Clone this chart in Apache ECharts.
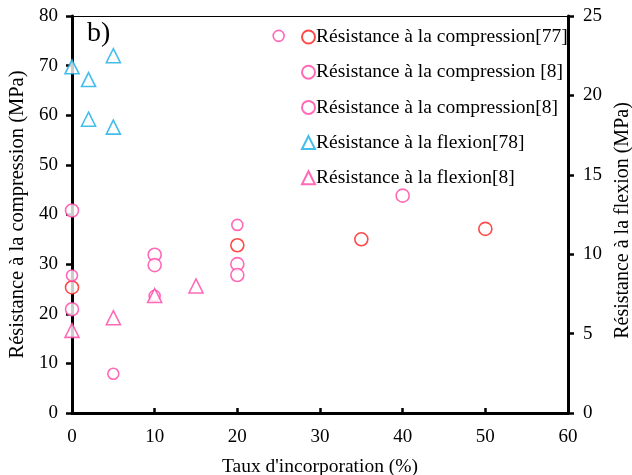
<!DOCTYPE html>
<html><head><meta charset="utf-8">
<script src="https://cdn.jsdelivr.net/npm/echarts@6/dist/echarts.min.js"></script>
<style>html,body{margin:0;padding:0;background:#fff;overflow:hidden}#c{width:632px;height:475px}</style>
</head><body><div id="c"></div>
<script>
const xTicks = [0, 10, 20, 30, 40, 50, 60];
const seriesNames = [
  'Résistance à la compression[77]',
  'Résistance à la compression [8]',
  'Résistance à la compression[8]',
  'Résistance à la flexion[78]',
  'Résistance à la flexion[8]'
];
const comp77 = [[0, 25.3], [20, 33.8], [35, 35.0], [50, 37.1]];
const comp8a = [[0, 40.8], [0, 20.9], [10, 31.9], [10, 29.8], [20, 30.0], [20, 27.8], [40, 43.8]];
const comp8b = [[0, 27.7], [5, 7.9], [10, 23.6], [20, 37.9], [25, 76.0]];
const flex78 = [[0, 21.8], [2, 21.0], [2, 18.5], [5, 22.5], [5, 18.0]];
const flex8 = [[0, 5.2], [5, 6.0], [10, 7.4], [15, 8.0]];

const RED = '#ff1a1a', PINK = '#ff45a5', BLUE = '#14aee6';
const FONT = 'Liberation Serif';

const chart = echarts.init(document.getElementById('c'));
function sc(name, data, color, symbol, size, yIdx) {
  return {
    type: 'scatter', name: name, data: data, yAxisIndex: yIdx,
    symbol: symbol, symbolSize: size,
    itemStyle: { color: '#fff', borderColor: color, borderWidth: 1.6 },
    z: 3
  };
}
chart.setOption({
  animation: false,
  textStyle: { fontFamily: FONT },
  grid: { left: 72, right: 64, top: 16, bottom: 62, show: false,
    containLabel: false, outerBoundsMode: 'none' },
  legend: {
    orient: 'vertical', left: 296, top: 22, itemGap: 15.2,
    itemWidth: 13, itemHeight: 13, z: 1,
    textStyle: { fontFamily: FONT, fontSize: 19.5, color: '#000', padding: [0, 0, 0, -4] },
    data: seriesNames
  },
  xAxis: [{
    type: 'value', min: 0, max: 60, interval: 10,
    axisLine: { onZero: false, lineStyle: { color: '#000', width: 3 } },
    axisTick: { inside: true, length: 5, lineStyle: { color: '#000', width: 2.5 } },
    axisLabel: { color: '#000', fontSize: 19, fontFamily: FONT, margin: 15,
      formatter: v => xTicks.includes(v) ? String(v) : '' },
    splitLine: { show: false },
    name: "Taux d'incorporation (%)", nameLocation: 'middle', nameGap: 44,
    nameTextStyle: { color: '#000', fontSize: 19.5, fontFamily: FONT }
  }, {
    type: 'value', position: 'top', min: 0, max: 60,
    axisLine: { show: true, onZero: false, lineStyle: { color: '#000', width: 1 } },
    axisTick: { show: false }, axisLabel: { show: false }, splitLine: { show: false }
  }],
  yAxis: [{
    type: 'value', min: 0, max: 80, interval: 10, position: 'left',
    axisLine: { show: true, onZero: false, lineStyle: { color: '#000', width: 3 } },
    axisTick: { show: true, length: 6, lineStyle: { color: '#000', width: 2.5 } },
    axisLabel: { color: '#000', fontSize: 19, fontFamily: FONT, margin: 14 },
    splitLine: { show: false },
    name: 'Résistance à la compression (MPa)', nameLocation: 'middle', nameGap: 39,
    nameTextStyle: { color: '#000', fontSize: 20.5, fontFamily: FONT }
  }, {
    type: 'value', min: 0, max: 25, interval: 5, position: 'right',
    axisLine: { show: true, onZero: false, lineStyle: { color: '#000', width: 3 } },
    axisTick: { show: true, length: 6, lineStyle: { color: '#000', width: 2.5 } },
    axisLabel: { color: '#000', fontSize: 19, fontFamily: FONT, margin: 15 },
    splitLine: { show: false },
    name: 'Résistance à la flexion (MPa)', nameLocation: 'middle', nameGap: 42,
    nameRotate: 90,
    nameTextStyle: { color: '#000', fontSize: 20, fontFamily: FONT, padding: [0, 12, 0, 0] }
  }],
  graphic: [{
    type: 'text', left: 87, top: 20, z: 10,
    style: { text: 'b)', font: '28px "Liberation Serif"', fill: '#000' }
  }],
  series: [
    sc(seriesNames[0], comp77, RED, 'circle', 13, 0),
    sc(seriesNames[1], comp8a, PINK, 'circle', 13, 0),
    sc(seriesNames[2], comp8b, PINK, 'circle', 11, 0),
    sc(seriesNames[3], flex78, BLUE, 'triangle', 14, 1),
    sc(seriesNames[4], flex8, PINK, 'triangle', 14, 1)
  ]
});
</script></body></html>
